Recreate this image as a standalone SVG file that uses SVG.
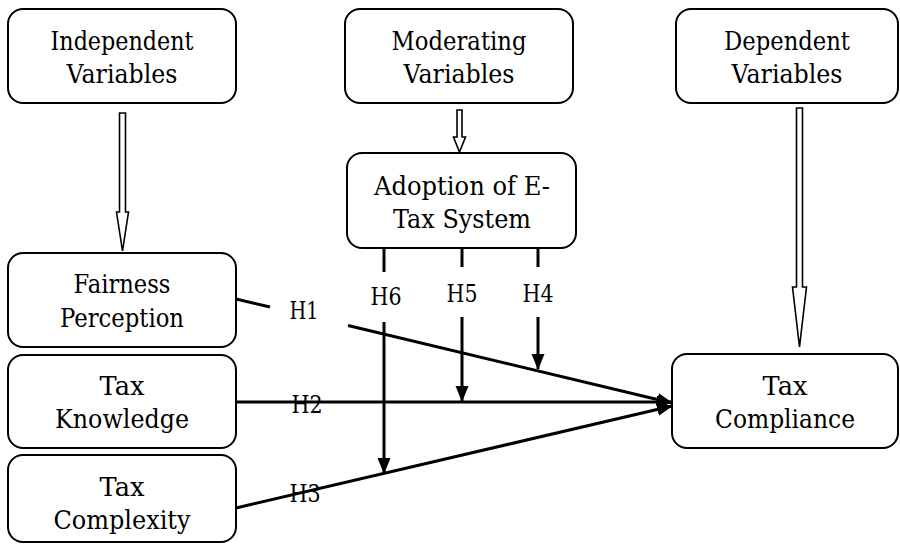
<svg xmlns="http://www.w3.org/2000/svg" width="900" height="544" viewBox="0 0 900 544">
<style>
.box{fill:#fff;stroke:#000;stroke-width:2}
text{font-family:'DejaVu Serif','Liberation Serif',serif;fill:#000;text-anchor:middle}
.lbl{font-size:26px}
.h{font-size:24px}
.ln{stroke:#000;stroke-width:3;fill:none}
.hollow{fill:#fff;stroke:#000;stroke-width:1.6;stroke-linejoin:miter}
</style>
<defs>
<marker id="ah" markerUnits="userSpaceOnUse" markerWidth="16" markerHeight="14" refX="15" refY="6.5" orient="auto">
<path d="M0,0 L16,6.5 L0,13 z" fill="#000"/>
</marker>
</defs>
<rect width="900" height="544" fill="#fff"/>

<g id="independent">
<rect class="box" x="8" y="9" width="228" height="94" rx="15"/>
<text class="lbl" x="122" y="50" textLength="143" lengthAdjust="spacingAndGlyphs">Independent</text>
<text class="lbl" x="122" y="83" textLength="111" lengthAdjust="spacingAndGlyphs">Variables</text>
</g>
<g id="moderating">
<rect class="box" x="345" y="9" width="228" height="94" rx="15"/>
<text class="lbl" x="459" y="50" textLength="135" lengthAdjust="spacingAndGlyphs">Moderating</text>
<text class="lbl" x="459" y="83" textLength="111" lengthAdjust="spacingAndGlyphs">Variables</text>
</g>
<g id="dependent">
<rect class="box" x="676" y="9" width="222" height="94" rx="15"/>
<text class="lbl" x="787" y="50" textLength="126" lengthAdjust="spacingAndGlyphs">Dependent</text>
<text class="lbl" x="787" y="83" textLength="111" lengthAdjust="spacingAndGlyphs">Variables</text>
</g>
<g id="adoption">
<rect class="box" x="347" y="153" width="229" height="95" rx="15"/>
<text class="lbl" x="462" y="195" textLength="176" lengthAdjust="spacingAndGlyphs">Adoption of E-</text>
<text class="lbl" x="462" y="228" textLength="138" lengthAdjust="spacingAndGlyphs">Tax System</text>
</g>
<g id="fairness">
<rect class="box" x="8" y="253" width="228" height="94" rx="15"/>
<text class="lbl" x="122" y="293" textLength="97" lengthAdjust="spacingAndGlyphs">Fairness</text>
<text class="lbl" x="122" y="327" textLength="124" lengthAdjust="spacingAndGlyphs">Perception</text>
</g>
<g id="knowledge">
<rect class="box" x="8" y="355" width="228" height="93" rx="15"/>
<text class="lbl" x="122" y="395" textLength="45" lengthAdjust="spacingAndGlyphs">Tax</text>
<text class="lbl" x="122" y="428" textLength="134" lengthAdjust="spacingAndGlyphs">Knowledge</text>
</g>
<g id="complexity">
<rect class="box" x="8" y="455" width="228" height="87" rx="15"/>
<text class="lbl" x="122" y="496" textLength="45" lengthAdjust="spacingAndGlyphs">Tax</text>
<text class="lbl" x="122" y="529" textLength="137" lengthAdjust="spacingAndGlyphs">Complexity</text>
</g>
<g id="compliance">
<rect class="box" x="672" y="354" width="226" height="94" rx="15"/>
<text class="lbl" x="785" y="395" textLength="45" lengthAdjust="spacingAndGlyphs">Tax</text>
<text class="lbl" x="785" y="428" textLength="140" lengthAdjust="spacingAndGlyphs">Compliance</text>
</g>

<g id="connectors">
<polygon class="hollow" points="119.5,113 125.5,113 125.5,212 128.5,212 122.5,251 116.5,212 119.5,212"/>
<polygon class="hollow" points="457,110 462,110 462,137 465.5,137 459.5,152 453.5,137 457,137"/>
<polygon class="hollow" points="796.5,108 802.5,108 802.5,287 806.5,287 799.5,347 792.5,287 796.5,287"/>

<line class="ln" x1="236" y1="299" x2="270" y2="307"/>
<line class="ln" x1="348" y1="325.5" x2="672" y2="403" marker-end="url(#ah)"/>
<line class="ln" x1="236" y1="402" x2="672" y2="402" marker-end="url(#ah)"/>
<line class="ln" x1="236" y1="508" x2="672" y2="406" marker-end="url(#ah)"/>

<line class="ln" x1="384" y1="248" x2="384" y2="272"/>
<line class="ln" x1="384" y1="322" x2="384" y2="473" marker-end="url(#ah)"/>
<line class="ln" x1="462" y1="248" x2="462" y2="267"/>
<line class="ln" x1="462" y1="317" x2="462" y2="401" marker-end="url(#ah)"/>
<line class="ln" x1="538" y1="248" x2="538" y2="267"/>
<line class="ln" x1="538" y1="317" x2="538" y2="369" marker-end="url(#ah)"/>

<text class="h" x="304" y="319" textLength="29" lengthAdjust="spacingAndGlyphs">H1</text>
<text class="h" x="307" y="413" textLength="31" lengthAdjust="spacingAndGlyphs">H2</text>
<text class="h" x="305" y="502" textLength="31" lengthAdjust="spacingAndGlyphs">H3</text>
<text class="h" x="386" y="305" textLength="31" lengthAdjust="spacingAndGlyphs">H6</text>
<text class="h" x="462" y="302" textLength="31" lengthAdjust="spacingAndGlyphs">H5</text>
<text class="h" x="538" y="302" textLength="31" lengthAdjust="spacingAndGlyphs">H4</text>
</g>
</svg>
